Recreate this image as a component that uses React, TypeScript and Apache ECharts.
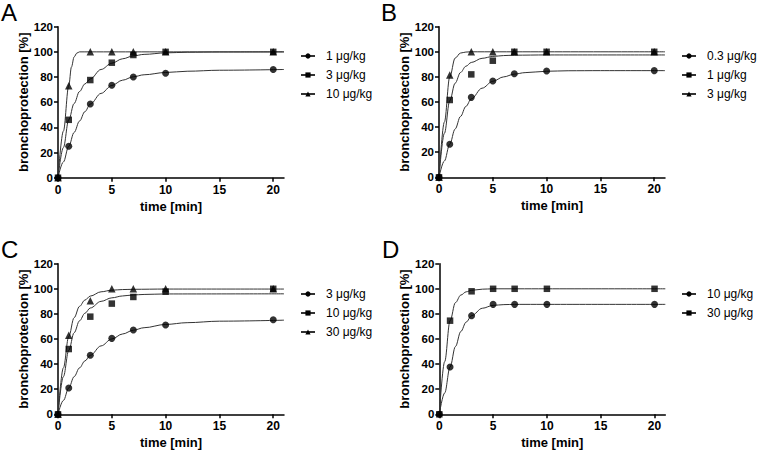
import React, { useEffect, useRef } from "react";
import * as echarts from "echarts";

const FONT = '"Liberation Sans", Arial, Helvetica, sans-serif';

// ---- data ----
const times = [0, 1, 3, 5, 7, 10, 20];
const xTickValues = [0, 5, 10, 15, 20];
const panelLetters = ["A", "B", "C", "D"];

// Panel A
const dosesA = ["1 μg/kg", "3 μg/kg", "10 μg/kg"];
const a1 = [0, 25, 58.5, 73.5, 80, 83, 86];
const a3 = [0, 46, 77.6, 91.4, 97.5, 100, 100];
const a10 = [0, 73, 100, 100, 100, 100, 100];
const fitA1 = [[0, 0], [0.5, 12.5], [1, 25], [1.5, 36], [2, 45], [2.5, 52.5], [3, 58.5], [4, 67], [5, 73.3], [6, 77.5], [7, 80.2], [8, 81.8], [10, 83.6], [12, 84.6], [15, 85.4], [21, 86]];
const fitA3 = [[0, 0], [0.5, 24], [1, 46], [1.5, 59], [2, 68.5], [2.5, 74.5], [3, 78.5], [4, 86], [5, 91], [6, 94.5], [7, 96.8], [8, 98], [10, 99.2], [12, 99.7], [15, 99.9], [21, 100]];
const fitA10 = [[0, 0], [0.5, 37], [1, 73], [1.25, 88], [1.5, 96], [1.75, 99], [2, 100], [3, 100], [21, 100]];

// Panel B
const dosesB = ["0.3 μg/kg", "1 μg/kg", "3 μg/kg"];
const b03 = [0, 26.3, 63.7, 76.7, 82.5, 84.7, 85];
const b1 = [0, 61.6, 82, 92.9, 100, 100, 100];
const b3 = [0, 81.5, 100, 100, 100, 100, 100];
const fitB03 = [[0, 0], [0.5, 13], [1, 26.5], [1.5, 38.5], [2, 48.5], [2.5, 56.5], [3, 62.5], [4, 71], [5, 76.5], [6, 80], [7, 82.2], [8, 83.4], [10, 84.5], [12, 84.9], [15, 85], [21, 85]];
const fitB1 = [[0, 0], [0.5, 35], [1, 61], [1.5, 75], [2, 83.5], [2.5, 88.5], [3, 91.5], [4, 94.8], [5, 96.3], [6, 97], [7, 97.3], [10, 97.5], [21, 97.5]];
const fitB3 = [[0, 0], [0.5, 44], [1, 80], [1.5, 95], [2, 99], [2.5, 99.8], [3, 100], [21, 100]];

// Panel C
const dosesC = ["3 μg/kg", "10 μg/kg", "30 μg/kg"];
const c3 = [0, 21, 47, 60.5, 67.2, 71.2, 75.4];
const c10 = [0, 52, 77.8, 88.2, 93.5, 97.7, 100];
const c30 = [0, 63, 90.5, 100, 100, 100, 100];
const fitC3 = [[0, 0], [0.5, 11], [1, 21], [1.5, 30], [2, 37], [2.5, 42.5], [3, 47], [4, 54.5], [5, 60], [6, 64], [7, 67], [8, 69], [10, 71.6], [12, 73], [15, 74.2], [21, 75]];
const fitC10 = [[0, 0], [0.5, 30], [1, 51], [1.5, 65], [2, 74.5], [2.5, 80.5], [3, 84.7], [4, 90], [5, 92.8], [6, 94.3], [7, 95.1], [8, 95.5], [10, 95.9], [21, 96]];
const fitC30 = [[0, 0], [0.5, 37], [1, 62], [1.5, 77], [2, 86], [2.5, 91], [3, 94.2], [4, 97.6], [5, 98.9], [6, 99.4], [7, 99.6], [10, 99.8], [21, 99.8]];

// Panel D
const dosesD = ["10 μg/kg", "30 μg/kg"];
const d10 = [0, 37.7, 78.6, 87.6, 87.6, 87.6, 87.6];
const d30 = [0, 74.6, 98, 100, 100, 100, 100];
const fitD10 = [[0, 0], [0.5, 17], [1, 37.7], [1.5, 54], [2, 66], [2.5, 73.5], [3, 78.6], [4, 84.5], [5, 86.8], [6, 87.4], [7, 87.6], [21, 87.6]];
const fitD30 = [[0, 0], [0.5, 42], [1, 74.6], [1.5, 89], [2, 95], [2.5, 97.6], [3, 98.8], [4, 99.7], [5, 100], [21, 100]];

// ---- layout / style ----
const shapes = ["circle", "rect", "triangle"];
const shapeSizes = [7, 6.5, 7.5];
const grids = [
  { left: 58, top: 26.7, width: 226, height: 151 },
  { left: 439, top: 26.7, width: 226, height: 150.6 },
  { left: 58, top: 263.7, width: 226, height: 150.6 },
  { left: 439.3, top: 263.7, width: 226, height: 150.6 },
];
const legendPos = [
  { left: 300, top: 49 },
  { left: 681, top: 49 },
  { left: 300, top: 287 },
  { left: 681, top: 287 },
];
const titlePos = [
  { left: 1, top: 0 },
  { left: 381, top: 0 },
  { left: 1, top: 237 },
  { left: 382, top: 237 },
];

const panels = [
  { doses: dosesA, values: [a1, a3, a10], fits: [fitA1, fitA3, fitA10] },
  { doses: dosesB, values: [b03, b1, b3], fits: [fitB03, fitB1, fitB3] },
  { doses: dosesC, values: [c3, c10, c30], fits: [fitC3, fitC10, fitC30] },
  { doses: dosesD, values: [d10, d30], fits: [fitD10, fitD30] },
];

export default function App() {
  const ref = useRef<HTMLDivElement>(null);
  useEffect(() => {
    if (!ref.current) return;
    const chart = echarts.init(ref.current, undefined, { renderer: "svg" });

    const xAxis: any[] = [];
    const yAxis: any[] = [];
    const legend: any[] = [];
    const title: any[] = [];
    const series: any[] = [];

    panels.forEach((p, i) => {
      const axisCommon = {
        gridIndex: i,
        type: "value",
        axisLine: { show: true, onZero: false, lineStyle: { color: "#000", width: 1.5 } },
        axisTick: { show: true, length: 4, lineStyle: { color: "#000", width: 1.5 } },
        splitLine: { show: false },
        nameTextStyle: { color: "#000", fontSize: 13, fontWeight: "bold", fontFamily: FONT },
      };
      xAxis.push({
        ...axisCommon,
        min: 0,
        max: 21,
        interval: 5,
        name: "time [min]",
        nameLocation: "middle",
        nameGap: 22,
        axisTick: { ...axisCommon.axisTick, customValues: xTickValues },
        axisLabel: {
          customValues: xTickValues,
          color: "#000",
          fontSize: 12,
          fontWeight: "bold",
          fontFamily: FONT,
          margin: 6,
        },
      });
      yAxis.push({
        ...axisCommon,
        min: 0,
        max: 120,
        interval: 20,
        name: "bronchoprotection [%]",
        nameLocation: "middle",
        nameGap: 25,
        axisLabel: {
          color: "#000",
          fontSize: 11.5,
          fontWeight: "bold",
          fontFamily: FONT,
          margin: 5,
        },
      });
      const names = p.doses.map((d) => `${panelLetters[i]}|${d}`);
      legend.push({
        ...legendPos[i],
        orient: "vertical",
        padding: 0,
        itemGap: 5,
        itemWidth: 14,
        itemHeight: 6.5,
        selectedMode: false,
        data: names,
        formatter: (n: string) => n.split("|")[1],
        textStyle: {
          color: "#000",
          fontSize: 12,
          fontFamily: FONT,
          lineHeight: 14,
          padding: [0, 0, 0, 6],
        },
      });
      title.push({
        ...titlePos[i],
        text: panelLetters[i],
        padding: 0,
        textStyle: { fontSize: 24, fontWeight: "normal", color: "#000", fontFamily: FONT, lineHeight: 24 },
      });
      p.doses.forEach((d, k) => {
        series.push({
          type: "line",
          name: names[k],
          xAxisIndex: i,
          yAxisIndex: i,
          data: p.fits[k],
          smooth: 0.35,
          smoothMonotone: "x",
          symbol: shapes[k],
          showSymbol: false,
          lineStyle: { color: "#333", width: 1 },
          itemStyle: { color: "#000" },
          z: 2,
        });
        series.push({
          type: "scatter",
          name: names[k] + "|pts",
          xAxisIndex: i,
          yAxisIndex: i,
          data: times.map((t, j) => [t, p.values[k][j]]),
          symbol: shapes[k],
          symbolSize: shapeSizes[k],
          itemStyle: { color: "#000" },
          clip: false,
          z: 3,
        });
      });
    });

    chart.setOption({
      animation: false,
      backgroundColor: "#fff",
      textStyle: { fontFamily: FONT },
      title,
      grid: grids.map((g) => ({ ...g, containLabel: false })),
      xAxis,
      yAxis,
      legend,
      series,
    });
    return () => chart.dispose();
  }, []);
  return (
    <div
      ref={ref}
      style={{ position: "fixed", left: 0, top: 0, width: 759, height: 452, background: "#fff" }}
    />
  );
}
